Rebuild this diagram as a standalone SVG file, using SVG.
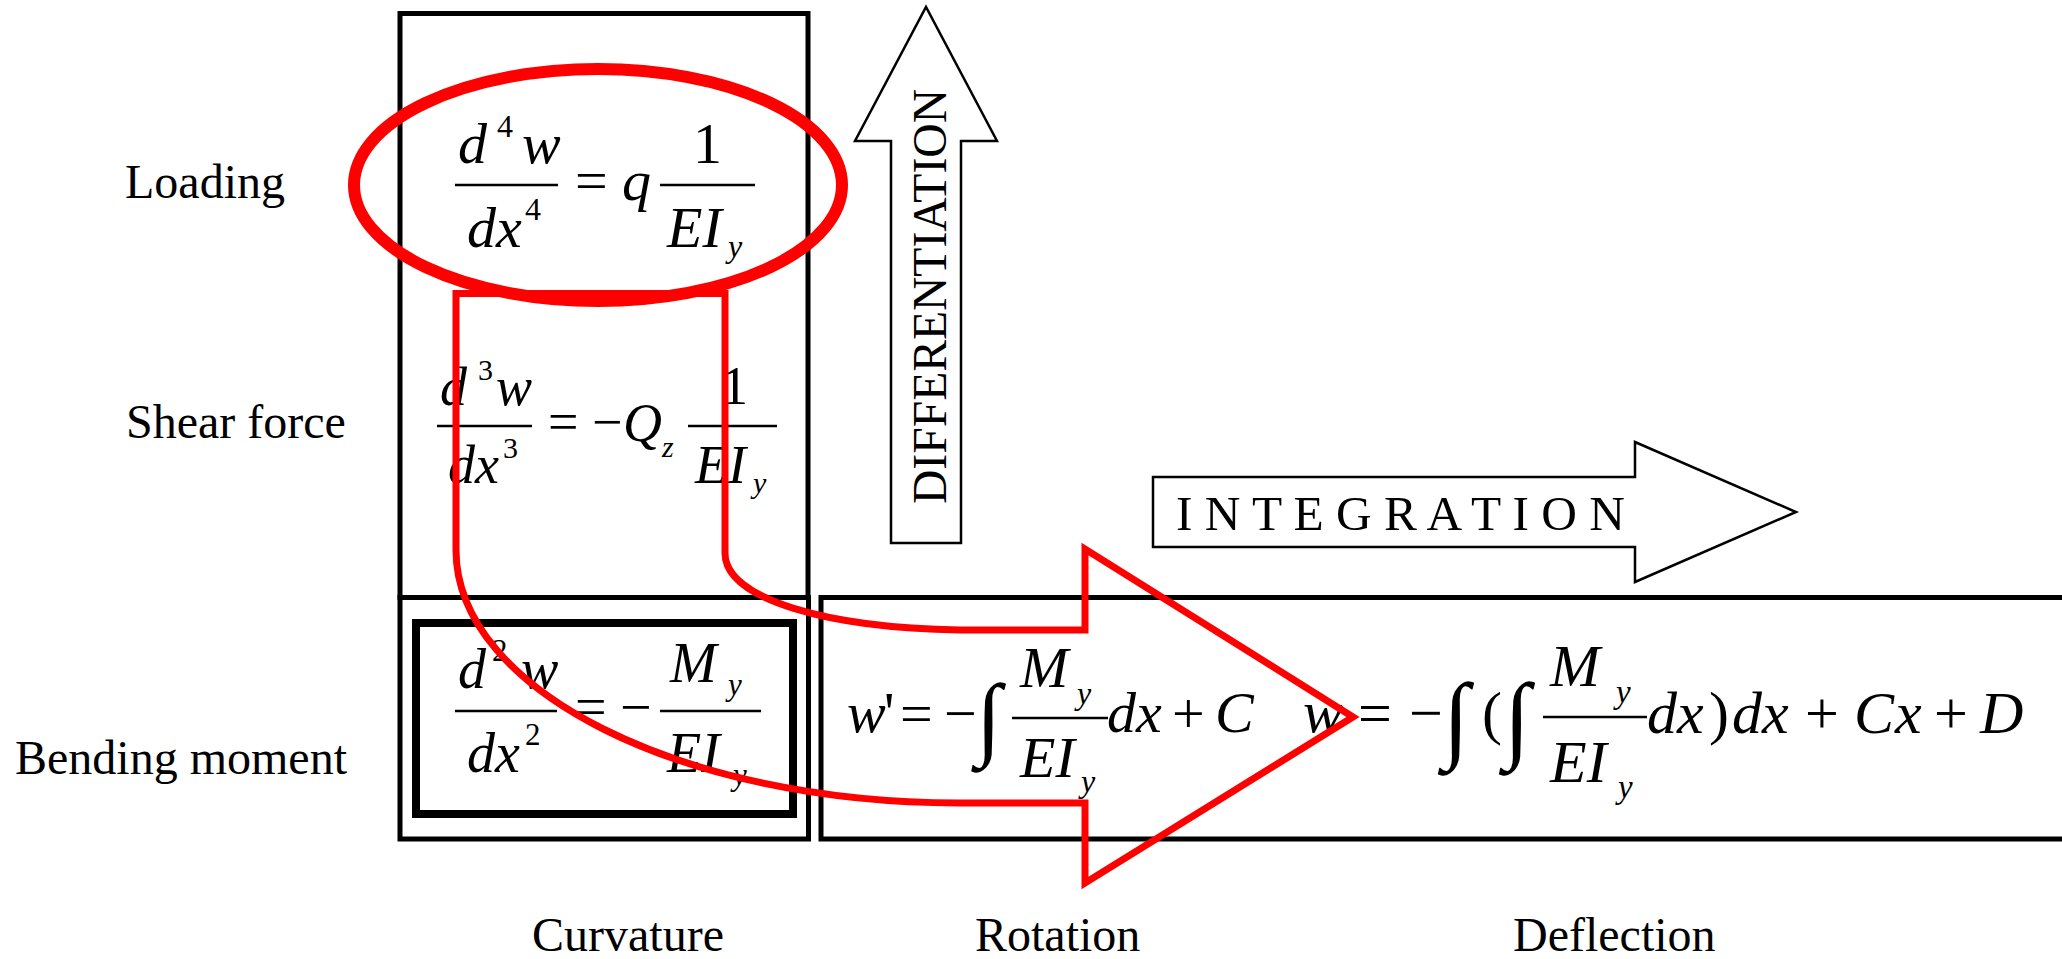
<svg xmlns="http://www.w3.org/2000/svg" width="2062" height="959" viewBox="0 0 2062 959">
<style>
text{font-family:"Liberation Serif","Times New Roman",serif;fill:#000}
.lbl{font-size:48px}
.i{font-style:italic}
.box{fill:none;stroke:#000;stroke-width:5}
.frac{stroke:#000;stroke-width:2.5}
.blk{fill:#fff;stroke:#000;stroke-width:2.5;stroke-linejoin:miter}
.red{fill:none;stroke:#ff0000}
</style>
<rect width="2062" height="959" fill="#fff"/>

<g id="labels">
<text class="lbl" x="125" y="198">Loading</text>
<text class="lbl" x="126" y="438">Shear force</text>
<text class="lbl" x="15" y="774">Bending moment</text>
<text class="lbl" x="532" y="951">Curvature</text>
<text class="lbl" x="975" y="951">Rotation</text>
<text class="lbl" x="1513" y="951">Deflection</text>
</g>

<g id="box-upper"><rect class="box" x="400" y="13.5" width="408" height="584"/></g>
<g id="box-curvature"><rect class="box" x="400" y="597.5" width="408.5" height="241.5"/></g>
<g id="box-bending"><rect class="box" x="416" y="623" width="377" height="191" style="stroke-width:8"/></g>
<g id="box-integration"><rect class="box" x="821" y="597.5" width="1300" height="241.5"/></g>

<g id="eq-loading" style="font-size:58px">
<text class="i" x="458" y="163">d</text>
<text x="497" y="137" style="font-size:32px">4</text>
<text class="i" x="522" y="163">w</text>
<line class="frac" x1="455" y1="185" x2="558" y2="185"/>
<text class="i" x="467" y="247">d</text>
<text class="i" x="496" y="247">x</text>
<text x="525" y="220" style="font-size:32px">4</text>
<text x="575" y="200">=</text>
<text class="i" x="622" y="200">q</text>
<line class="frac" x1="660" y1="185" x2="755" y2="185"/>
<text x="693" y="163">1</text>
<text class="i" x="667" y="247">EI</text>
<text class="i" x="728" y="257" style="font-size:32px">y</text>
</g>

<g id="eq-shear" style="font-size:54px">
<text class="i" x="440" y="405">d</text>
<text x="478" y="380" style="font-size:30px">3</text>
<text class="i" x="496" y="405">w</text>
<line class="frac" x1="437" y1="426" x2="532" y2="426"/>
<text class="i" x="448" y="483">d</text>
<text class="i" x="475" y="483">x</text>
<text x="503" y="458" style="font-size:30px">3</text>
<text x="548" y="440">=</text>
<text x="592" y="440">−</text>
<text class="i" x="623" y="441">Q</text>
<text class="i" x="662" y="457" style="font-size:30px">z</text>
<line class="frac" x1="688" y1="426" x2="777" y2="426"/>
<text x="721" y="404">1</text>
<text class="i" x="695" y="483">EI</text>
<text class="i" x="753" y="493" style="font-size:30px">y</text>
</g>

<g id="eq-bending" style="font-size:56px">
<text class="i" x="458" y="688">d</text>
<text x="492" y="661" style="font-size:31px">2</text>
<text class="i" x="521" y="688">w</text>
<line class="frac" x1="455" y1="711" x2="557" y2="711"/>
<text class="i" x="467" y="772">d</text>
<text class="i" x="495" y="772">x</text>
<text x="525" y="745" style="font-size:31px">2</text>
<text x="575" y="726">=</text>
<text x="620" y="726">−</text>
<line class="frac" x1="660" y1="711" x2="761" y2="711"/>
<text class="i" x="670" y="682">M</text>
<text class="i" x="728" y="695" style="font-size:31px">y</text>
<text class="i" x="667" y="772">EI</text>
<text class="i" x="733" y="785" style="font-size:31px">y</text>
</g>

<g id="eq-rotation" style="font-size:58px">
<text class="i" x="847" y="732">w</text>
<text x="884" y="732">'</text>
<text x="900" y="733">=</text>
<text x="944" y="733">−</text>
<text x="976" y="748" style="font-size:92px">∫</text>
<line class="frac" x1="1012" y1="718" x2="1108" y2="718"/>
<text class="i" x="1020" y="687">M</text>
<text class="i" x="1077" y="704" style="font-size:32px">y</text>
<text class="i" x="1020" y="777">EI</text>
<text class="i" x="1081" y="792" style="font-size:32px">y</text>
<text class="i" x="1107" y="732">dx</text>
<text x="1172" y="733">+</text>
<text class="i" x="1215" y="732">C</text>
</g>

<g id="eq-deflection" style="font-size:60px">
<text class="i" x="1303" y="732">w</text>
<text x="1358" y="733">=</text>
<text x="1409" y="733">−</text>
<text x="1443" y="750" style="font-size:96px">∫</text>
<text x="1482" y="733">(</text>
<text x="1504" y="750" style="font-size:96px">∫</text>
<line class="frac" x1="1543" y1="717" x2="1647" y2="717"/>
<text class="i" x="1550" y="686">M</text>
<text class="i" x="1616" y="703" style="font-size:33px">y</text>
<text class="i" x="1550" y="782">EI</text>
<text class="i" x="1618" y="798" style="font-size:33px">y</text>
<text class="i" x="1647" y="733">dx</text>
<text x="1709" y="733">)</text>
<text class="i" x="1732" y="733">dx</text>
<text x="1805" y="733">+</text>
<text class="i" x="1854" y="733">C</text>
<text class="i" x="1895" y="733">x</text>
<text x="1934" y="733">+</text>
<text class="i" x="1980" y="733">D</text>
</g>

<g id="connectors">
<g id="arrow-differentiation">
<polygon class="blk" points="891,543 891,141 855,141 926,7 997,141 961,141 961,543"/>
<text transform="translate(946,504) rotate(-90)" x="0" y="0" style="font-size:48px" textLength="415" lengthAdjust="spacingAndGlyphs">DIFFERENTIATION</text>
</g>
<g id="arrow-integration">
<polygon class="blk" points="1153,477 1635,477 1635,442 1796,512 1635,582 1635,547 1153,547"/>
<text x="1176" y="530" style="font-size:48px" textLength="449" lengthAdjust="spacingAndGlyphs">I N T E G R A T I O N</text>
</g>
<g id="highlight">
<ellipse class="red" cx="598" cy="185" rx="244" ry="116" style="stroke-width:12"/>
<path class="red" style="stroke-width:7;stroke-linejoin:miter;stroke-miterlimit:10" d="M456,293.5 L725,293.5 L725,553 C725,600 830,628 960,630 L1085,630 L1085,549 L1353,717 L1085,883 L1085,803 L959,803 C681,803 456,690 456,550 Z"/>
</g>
</g>
</svg>
